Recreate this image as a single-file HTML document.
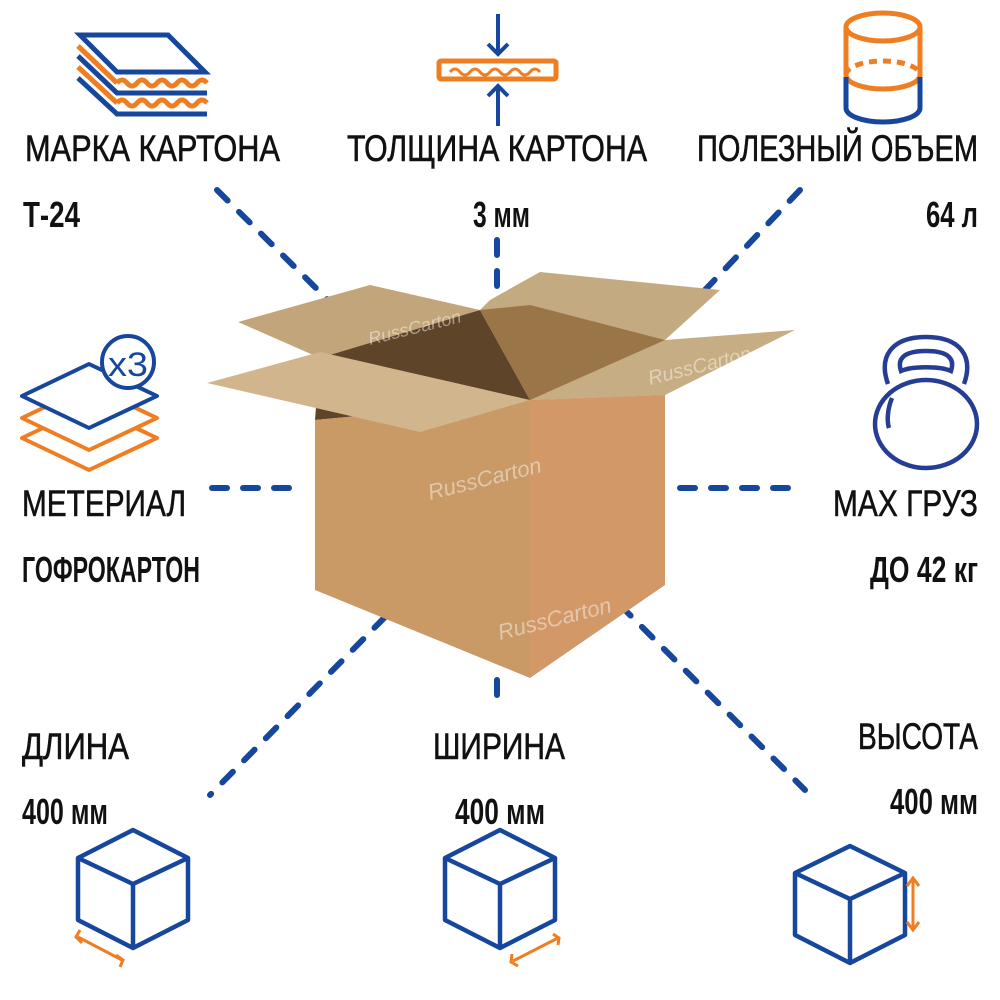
<!DOCTYPE html>
<html><head><meta charset="utf-8"><style>
html,body{margin:0;padding:0;background:#fff;}
svg{display:block}
text{font-family:"Liberation Sans",sans-serif;fill:#111;}
.t{font-size:37px;stroke:#111;stroke-width:0.6;}
.v{font-size:36px;font-weight:bold;}
</style></head><body>
<svg width="1000" height="1000" viewBox="0 0 1000 1000" xmlns="http://www.w3.org/2000/svg">
<g stroke="#17479c" stroke-width="6" stroke-linecap="round" stroke-dasharray="15 16" fill="none">
<line x1="217" y1="190" x2="328" y2="300"/>
<line x1="497" y1="240" x2="497" y2="292"/>
<line x1="800" y1="190" x2="705" y2="290"/>
<line x1="212" y1="488" x2="300" y2="488"/>
<line x1="680" y1="488" x2="790" y2="488"/>
<line x1="385" y1="617" x2="210" y2="795"/>
<line x1="497" y1="680" x2="497" y2="702"/>
<line x1="620" y1="605" x2="805" y2="790"/>
</g>

<g>
<polygon points="320,355 480,310 530,400 315,420" fill="#5e4428"/>
<polygon points="480,310 665,340 665,395 530,400" fill="#a4804f"/>
<polygon points="480,310 490,300 540,272 720,290 665,340" fill="#c4aa80"/>
<polygon points="238,322 370,285 480,310 320,358" fill="#c2a57a"/>
<polygon points="480,310 530,305 665,340 530,400" fill="#9a7548"/>
<polygon points="315,420 530,400 530,678 315,590" fill="#c99a66"/>
<polygon points="530,400 665,395 665,585 530,678" fill="#d29868"/>
<polygon points="207,383 320,352 530,400 420,432" fill="#d1b68d"/>
<polygon points="530,400 665,340 795,330 665,395" fill="#c7ad84"/>
</g>
<g font-family="Liberation Sans" opacity="0.45" font-style="italic">
<text x="430" y="500" font-size="22" transform="rotate(-14 430 500)" style="fill:#fff">RussCarton</text>
<text x="500" y="640" font-size="22" transform="rotate(-14 500 640)" style="fill:#fff">RussCarton</text>
<text x="650" y="385" font-size="20" transform="rotate(-14 650 385)" style="fill:#fff">RussCarton</text>
<text x="370" y="345" font-size="18" transform="rotate(-14 370 345)" style="fill:#fff">RussCarton</text>
</g>

<g fill="none" stroke-width="5" stroke-linejoin="miter">
<polygon points="80,35 168,35 205,72 117,72" stroke="#17479c"/>
<polyline points="78,46 117,83" stroke="#ef7d22"/>
<path d="M117,83 q5,-6 10,0 t10,0 t10,0 t10,0 t10,0 t10,0 t10,0 t10,0 t10,0" stroke="#ef7d22"/>
<polyline points="78,56 117,93 207,93" stroke="#17479c"/>
<polyline points="78,67 117,103" stroke="#ef7d22"/>
<path d="M117,103 q5,-6 10,0 t10,0 t10,0 t10,0 t10,0 t10,0 t10,0 t10,0 t10,0" stroke="#ef7d22"/>
<polyline points="78,78 117,114 207,114" stroke="#17479c"/>
</g>

<g fill="none" stroke-width="4">
<rect x="439" y="61" width="117" height="18" rx="2" stroke="#ef7d22" stroke-width="5"/>
<path d="M450,72 q5,-6 10,0 t10,0 t10,0 t10,0 t10,0 t10,0 t10,0 t10,0 t10,0" stroke="#ef7d22" stroke-width="3"/>
<line x1="498" y1="14" x2="498" y2="54" stroke="#17479c"/>
<polyline points="488,44 498,54 508,44" stroke="#17479c"/>
<line x1="498" y1="86" x2="498" y2="126" stroke="#17479c"/>
<polyline points="488,96 498,86 508,96" stroke="#17479c"/>
</g>

<g fill="none" stroke-width="5">
<ellipse cx="883" cy="27" rx="37" ry="14" stroke="#ef7d22"/>
<path d="M846,27 V75" stroke="#ef7d22"/>
<path d="M920,27 V75" stroke="#ef7d22"/>
<path d="M846,75 A37,14 0 0 0 920,75" stroke="#ef7d22"/>
<path d="M846,75 A37,14 0 0 1 920,75" stroke="#ef7d22" stroke-dasharray="8 6"/>
<path d="M846,77 V108 A37,14 0 0 0 920,108 V77" stroke="#17479c"/>
</g>

<g fill="none" stroke-width="4" stroke-linejoin="round">
<polygon points="22,438 89,406 157,438 89,470" stroke="#ef7d22"/>
<polygon points="22,418 89,386 157,418 89,450" stroke="#ef7d22" fill="#fff"/>
<polygon points="22,396 89,364 157,396 89,428" stroke="#17479c" fill="#fff"/>
<circle cx="128" cy="362" r="26" stroke="#17479c" fill="#fff"/>
</g>
<text x="128" y="376" text-anchor="middle" font-size="34" style="fill:#17479c" textLength="40" lengthAdjust="spacingAndGlyphs">x3</text>

<g fill="none" stroke="#253d94" stroke-width="4.5">
<path d="M888,384 C878,356 892,337 926,337 C960,337 974,356 964,384"/>
<ellipse cx="926" cy="424" rx="51" ry="44"/>
<path d="M901,371 C896,356 908,351 926,351 C944,351 956,356 951,371 C940,366 912,366 901,371 Z"/>
<path d="M892,398 C887,410 887,422 889,428"/>
</g>

<g fill="none" stroke="#17479c" stroke-width="4.5" stroke-linejoin="round">
<polygon points="133,830 188,858 188,920 133,948 78,920 78,858"/>
<polyline points="78,858 133,884 188,858"/><line x1="133" y1="884" x2="133" y2="948"/>
<polygon points="500,830 555,858 555,920 500,948 445,920 445,858"/>
<polyline points="445,858 500,884 555,858"/><line x1="500" y1="884" x2="500" y2="948"/>
<polygon points="850,846 905,873 905,935 850,963 795,935 795,873"/>
<polyline points="795,873 850,899 905,873"/><line x1="850" y1="899" x2="850" y2="963"/>
</g>
<g fill="none" stroke="#ef7d22" stroke-width="3">
<line x1="78" y1="937" x2="122" y2="960"/>
<polyline points="80,930 76,937 82,943"/><polyline points="116,955 123,960 120,967"/>
<line x1="513" y1="961" x2="558" y2="938"/>
<polyline points="512,954 511,962 518,966"/><polyline points="553,934 559,938 558,945"/>
<line x1="913" y1="879" x2="913" y2="929"/>
<polyline points="907,886 913,878 919,886"/><polyline points="907,922 913,930 919,922"/>
</g>

<text class="t" x="25" y="161" textLength="255" lengthAdjust="spacingAndGlyphs">МАРКА КАРТОНА</text>
<text class="t" x="347" y="161" textLength="300" lengthAdjust="spacingAndGlyphs">ТОЛЩИНА КАРТОНА</text>
<text class="t" x="697" y="161" textLength="281" lengthAdjust="spacingAndGlyphs">ПОЛЕЗНЫЙ ОБЪЕМ</text>
<text class="v" x="23" y="227" textLength="57" lengthAdjust="spacingAndGlyphs">Т-24</text>
<text class="v" x="473" y="227" textLength="57" lengthAdjust="spacingAndGlyphs">3 мм</text>
<text class="v" x="926" y="227" textLength="52" lengthAdjust="spacingAndGlyphs">64 л</text>
<text class="t" x="22" y="516" textLength="164" lengthAdjust="spacingAndGlyphs">МЕТЕРИАЛ</text>
<text class="v" x="22" y="582" textLength="178" lengthAdjust="spacingAndGlyphs">ГОФРОКАРТОН</text>
<text class="t" x="833" y="516" textLength="145" lengthAdjust="spacingAndGlyphs">MAX ГРУЗ</text>
<text class="v" x="870" y="582" textLength="108" lengthAdjust="spacingAndGlyphs">ДО 42 кг</text>
<text class="t" x="22" y="759" textLength="107" lengthAdjust="spacingAndGlyphs">ДЛИНА</text>
<text class="t" x="433" y="759" textLength="132" lengthAdjust="spacingAndGlyphs">ШИРИНА</text>
<text class="t" x="858" y="749" textLength="120" lengthAdjust="spacingAndGlyphs">ВЫСОТА</text>
<text class="v" x="22" y="824" textLength="86" lengthAdjust="spacingAndGlyphs">400 мм</text>
<text class="v" x="455" y="824" textLength="90" lengthAdjust="spacingAndGlyphs">400 мм</text>
<text class="v" x="890" y="814" textLength="88" lengthAdjust="spacingAndGlyphs">400 мм</text>
</svg>
</body></html>
